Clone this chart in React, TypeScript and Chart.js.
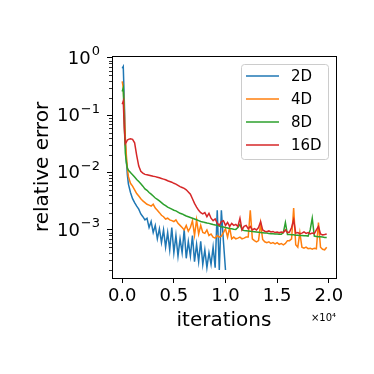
import React, { useEffect, useRef } from 'react';
import { Chart, registerables } from 'chart.js';

Chart.register(...registerables);

const iterations = [
  0, 100, 200, 300, 400, 500, 600,
  800, 1000, 1200, 1400, 1600, 1800, 2000, 2200, 2400, 2600,
  2800, 3000, 3200, 3400, 3600, 3800, 4000, 4200, 4400, 4600,
  4800, 5000, 5200, 5400, 5600, 5800, 6000, 6200, 6400, 6600,
  6800, 7000, 7200, 7400, 7600, 7800, 8000, 8200, 8400, 8600,
  8800, 9000, 9200, 9400, 9600, 9800, 10000, 10200, 10400, 10600,
  10800, 11000, 11200, 11400, 11600, 11800, 12000, 12200, 12400, 12600,
  12800, 13000, 13200, 13400, 13600, 13800, 14000, 14200, 14400, 14600,
  14800, 15000, 15200, 15400, 15600, 15800, 16000, 16200, 16400, 16600,
  16800, 17000, 17200, 17400, 17600, 17800, 18000, 18200, 18400, 18600,
  18800, 19000, 19200, 19400, 19600, 19800,
];

const err2D = [
  6.6e-1, 7.1e-1, 1.8e-1, 3.5e-2, 1.6e-2, 9e-3, 6.3e-3,
  4.5e-3, 3.5e-3, 3.0e-3, 2.6e-3, 2.3e-3, 1.9e-3, 1.7e-3, 1.5e-3, 1.6e-3, 1.1e-3,
  1.4e-3, 9e-4, 1.2e-3, 7e-4, 1.05e-3, 6e-4, 1.0e-3, 5e-4, 9e-4, 4.5e-4,
  1.1e-3, 4e-4, 8e-4, 3.5e-4, 7e-4, 4e-4, 1.0e-3, 3.2e-4, 6.3e-4, 3.5e-4,
  8e-4, 2.8e-4, 5.6e-4, 2.8e-4, 6.3e-4, 2.5e-4, 4.5e-4, 2.2e-4, 4e-4, 2.5e-4,
  5e-4, 2.2e-4, 2.2e-3, 2e-4, 2.2e-3, 6.3e-4, 2e-4,
];

const err4D = [
  3.9e-1, 3.0e-1, 1.3e-1, 4e-2, 2e-2, 1.2e-2, 8.5e-3,
  6.5e-3, 5.8e-3, 5.0e-3, 4.3e-3, 3.9e-3, 3.5e-3, 3.2e-3, 3.0e-3, 2.8e-3, 2.7e-3,
  2.6e-3, 2.8e-3, 2.4e-3, 2.2e-3, 2.0e-3, 1.8e-3, 1.7e-3, 1.55e-3, 1.6e-3, 1.5e-3,
  1.45e-3, 1.4e-3, 1.5e-3, 1.3e-3, 1.2e-3, 1.1e-3, 1.0e-3, 1.2e-3, 9.5e-4, 1.1e-3,
  1.45e-3, 8e-4, 1.5e-3, 8.5e-4, 1.2e-3, 9e-4, 8.7e-4, 1.0e-3, 8e-4, 8.5e-4,
  7.5e-4, 7.2e-4, 8e-4, 7.5e-4, 7.8e-4, 9e-4, 1.05e-3, 7.5e-4, 1.1e-3, 7e-4,
  7.5e-4, 7e-4, 7.2e-4, 7.5e-4, 7e-4, 7.2e-4, 7.5e-4, 7.5e-4, 2.2e-3, 7e-4,
  6.5e-4, 6.2e-4, 6.5e-4, 1.3e-3, 6.8e-4, 6.2e-4, 6e-4, 6.2e-4, 5.8e-4, 6e-4,
  5.7e-4, 6e-4, 5.6e-4, 5.8e-4, 5.5e-4, 5.8e-4, 6.5e-4, 6.5e-4, 7e-4, 2.4e-3,
  5.5e-4, 5e-4, 9e-4, 5e-4, 4.8e-4, 5e-4, 4.7e-4, 4.8e-4, 4.6e-4, 4.8e-4,
  4.7e-4, 1.35e-3, 5e-4, 4.6e-4, 4.5e-4, 5e-4,
];

const err8D = [
  2.6e-1, 3.0e-1, 7e-2, 2.2e-2, 1.5e-2, 1.2e-2, 1.1e-2,
  1.0e-2, 9.2e-3, 8.4e-3, 7.6e-3, 7.0e-3, 6.4e-3, 5.8e-3, 5.2e-3, 4.9e-3, 4.5e-3,
  4.2e-3, 3.9e-3, 3.6e-3, 3.4e-3, 3.2e-3, 3.0e-3, 2.8e-3, 2.65e-3, 2.5e-3, 2.4e-3,
  2.3e-3, 2.2e-3, 2.15e-3, 2.05e-3, 1.95e-3, 1.9e-3, 1.82e-3, 1.75e-3, 1.7e-3, 1.65e-3,
  1.6e-3, 1.55e-3, 1.5e-3, 1.45e-3, 1.4e-3, 1.38e-3, 1.35e-3, 1.32e-3, 1.3e-3, 1.27e-3,
  1.24e-3, 1.22e-3, 1.2e-3, 1.17e-3, 1.14e-3, 1.12e-3, 1.1e-3, 1.08e-3, 1.06e-3, 1.05e-3,
  1.03e-3, 1.02e-3, 1.1e-3, 1.25e-3, 1.0e-3, 9.8e-4, 9.7e-4, 9.6e-4, 9.5e-4, 9.4e-4,
  9.3e-4, 9.2e-4, 9.1e-4, 9.0e-4, 8.9e-4, 8.8e-4, 8.8e-4, 8.7e-4, 8.6e-4, 8.6e-4,
  8.5e-4, 8.5e-4, 8.4e-4, 8.4e-4, 9e-4, 1.35e-3, 8.3e-4, 8.3e-4, 8.2e-4, 8.2e-4,
  8.1e-4, 8.1e-4, 8.0e-4, 8.0e-4, 7.9e-4, 7.9e-4, 7.8e-4, 1.0e-3, 1.6e-3, 7.8e-4,
  7.7e-4, 7.6e-4, 7.6e-4, 7.5e-4, 7.4e-4, 7.4e-4,
];

const err16D = [
  1.55e-1, 1.75e-1, 6e-2, 3.2e-2, 3.4e-2, 3.7e-2, 3.8e-2,
  3.9e-2, 3.8e-2, 3.3e-2, 2.0e-2, 1.3e-2, 1.05e-2, 9.8e-3, 9.3e-3, 9.2e-3, 9.0e-3,
  8.8e-3, 8.6e-3, 8.5e-3, 8.3e-3, 8.1e-3, 7.9e-3, 7.7e-3, 7.5e-3, 7.2e-3, 7.0e-3,
  6.8e-3, 6.5e-3, 6.3e-3, 6.0e-3, 5.7e-3, 5.5e-3, 5.3e-3, 5.0e-3, 4.6e-3, 4.2e-3,
  3.5e-3, 2.9e-3, 2.5e-3, 2.2e-3, 2.0e-3, 1.9e-3, 2.0e-3, 1.7e-3, 1.95e-3, 1.6e-3,
  1.45e-3, 1.55e-3, 1.3e-3, 1.2e-3, 1.4e-3, 1.45e-3, 1.2e-3, 1.35e-3, 1.15e-3, 1.3e-3,
  1.2e-3, 1.25e-3, 1.15e-3, 1.6e-3, 1.0e-3, 1.15e-3, 1.2e-3, 1.05e-3, 1.15e-3, 1.0e-3,
  1.05e-3, 1.0e-3, 1.1e-3, 1.4e-3, 1.0e-3, 9.5e-4, 9.3e-4, 9.6e-4, 9.2e-4, 9.4e-4,
  9e-4, 9.2e-4, 8.9e-4, 9.2e-4, 9e-4, 1.0e-3, 9e-4, 9.2e-4, 1.1e-3, 1.5e-3,
  8.8e-4, 9e-4, 8.6e-4, 8.8e-4, 9.2e-4, 8.7e-4, 9e-4, 8.5e-4, 8.8e-4, 8.6e-4,
  1.0e-3, 1.15e-3, 8.5e-4, 8.2e-4, 8.3e-4, 8.5e-4,
];

const seriesLabels = ['2D', '4D', '8D', '16D'];
const seriesColors = ['#1f77b4', '#ff7f0e', '#2ca02c', '#d62728'];
const seriesValues = [err2D, err4D, err8D, err16D];

const xTickValues = [0, 5000, 10000, 15000, 20000];
const xTickLabels = ['0.0', '0.5', '1.0', '1.5', '2.0'];
const yTickValues = [1e-3, 1e-2, 1e-1, 1];
const yTickExponents = ['\u22123', '\u22122', '\u22121', '0'];

const FONT = "'DejaVu Sans', sans-serif";

const decorPlugin = {
  id: 'decor',
  afterDatasetsDraw(chart: any) {
    const { ctx, chartArea: a, scales } = chart;
    const y = scales.y;
    ctx.save();
    // minor log ticks
    ctx.strokeStyle = '#000';
    ctx.lineWidth = 0.8;
    for (let e = -4; e <= 0; e++) {
      for (let m = 2; m <= 9; m++) {
        const v = m * Math.pow(10, e);
        if (v < y.min || v > y.max) continue;
        const py = Math.round(y.getPixelForValue(v)) + 0.5;
        ctx.beginPath();
        ctx.moveTo(a.left, py);
        ctx.lineTo(a.left - 3, py);
        ctx.stroke();
      }
    }
    // y tick labels: 10 with superscript exponent
    ctx.fillStyle = '#000';
    ctx.textBaseline = 'middle';
    ctx.textAlign = 'right';
    yTickValues.forEach((v, i) => {
      const py = y.getPixelForValue(v);
      const right = a.left - 12;
      ctx.font = `13px ${FONT}`;
      const ew = ctx.measureText(yTickExponents[i]).width;
      ctx.fillText(yTickExponents[i], right, py - 6);
      ctx.font = `18px ${FONT}`;
      ctx.fillText('10', right - ew - 1, py + 1);
    });

    // frame
    ctx.lineWidth = 1;
    ctx.strokeStyle = '#000';
    ctx.strokeRect(Math.round(a.left) + 0.5, Math.round(a.top) + 0.5, Math.round(a.right - a.left), Math.round(a.bottom - a.top));

    // axis titles
    ctx.fillStyle = '#000';
    ctx.font = `20px ${FONT}`;
    ctx.textAlign = 'center';
    ctx.textBaseline = 'middle';
    ctx.fillText('iterations', (a.left + a.right) / 2, 321);
    ctx.save();
    ctx.translate(43, (a.top + a.bottom) / 2);
    ctx.rotate(-Math.PI / 2);
    ctx.fillText('relative error', 0, 0);
    ctx.restore();

    // offset text
    ctx.font = `10px ${FONT}`;
    ctx.textAlign = 'right';
    ctx.fillText('\u00D710\u2074', a.right, 318);

    // legend
    const bx = 241, by = 64, bw = 87, bh = 95;
    ctx.beginPath();
    ctx.roundRect(bx + 0.5, by + 0.5, bw, bh, 3);
    ctx.fillStyle = 'rgba(255,255,255,0.8)';
    ctx.fill();
    ctx.strokeStyle = '#cccccc';
    ctx.lineWidth = 1;
    ctx.stroke();
    ctx.font = `15px ${FONT}`;
    ctx.textAlign = 'left';
    ctx.textBaseline = 'middle';
    seriesLabels.forEach((lab, i) => {
      const ly = 76 + i * 23;
      ctx.strokeStyle = seriesColors[i];
      ctx.lineWidth = 1.5;
      ctx.beginPath();
      ctx.moveTo(246, ly);
      ctx.lineTo(279, ly);
      ctx.stroke();
      ctx.fillStyle = '#000';
      ctx.fillText(lab, 291, ly + 1);
    });
    ctx.restore();
  },
};

export default function App() {
  const ref = useRef<HTMLCanvasElement>(null);
  useEffect(() => {
    if (!ref.current) return;
    const datasets = seriesValues.map((vals, i) => ({
      label: seriesLabels[i],
      data: vals.map((v, j) => ({ x: iterations[j], y: v })),
      borderColor: seriesColors[i],
      backgroundColor: seriesColors[i],
      borderWidth: 1.5,
      pointRadius: 0,
      tension: 0,
      fill: false,
      order: 4 - i,
    }));
    const chart = new Chart(ref.current, {
      type: 'line',
      data: { datasets },
      options: {
        animation: false,
        responsive: false,
        layout: { padding: { left: 0, top: 56, right: 38, bottom: 0 } },
        plugins: { legend: { display: false }, tooltip: { enabled: false } },
        scales: {
          x: {
            type: 'linear',
            min: -990,
            max: 20700,
            afterFit: (s: any) => { s.height = 96; },
            afterBuildTicks: (s: any) => { s.ticks = xTickValues.map((v) => ({ value: v })); },
            ticks: {
              callback: (_v: any, i: number) => xTickLabels[i],
              font: { family: FONT, size: 18 },
              color: '#000',
              padding: 3,
              maxRotation: 0,
              autoSkip: false,
            },
            grid: { drawOnChartArea: false, drawTicks: true, tickLength: 5, tickColor: '#000', tickWidth: 1 },
            border: { display: false },
          },
          y: {
            type: 'logarithmic',
            min: 1.45e-4,
            max: 1.08,
            afterFit: (s: any) => { s.width = 112; },
            afterBuildTicks: (s: any) => { s.ticks = yTickValues.map((v) => ({ value: v })); },
            ticks: {
              callback: () => '',
              font: { family: FONT, size: 18 },
              color: '#000',
              padding: 6,
              autoSkip: false,
            },
            grid: { drawOnChartArea: false, drawTicks: true, tickLength: 5, tickColor: '#000', tickWidth: 1 },
            border: { display: false },
          },
        },
      },
      plugins: [decorPlugin],
    } as any);
    return () => chart.destroy();
  }, []);
  return (
    <div style={{ position: 'absolute', left: 0, top: 0, width: 374, height: 374, background: '#fff' }}>
      <canvas ref={ref} width={374} height={374} style={{ width: 374, height: 374 }} />
    </div>
  );
}
